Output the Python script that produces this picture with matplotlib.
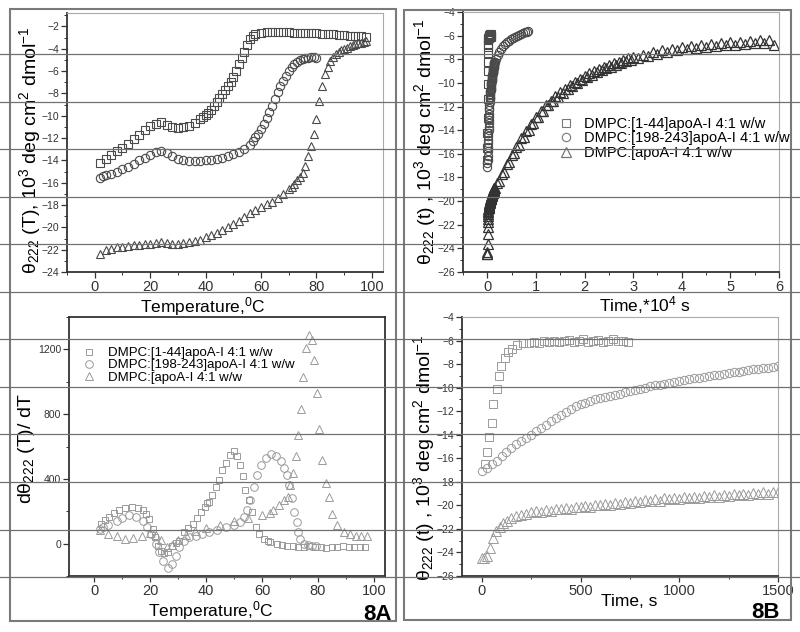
import numpy as np
import matplotlib
matplotlib.use("Agg")
import matplotlib.pyplot as plt
from matplotlib.lines import Line2D
from matplotlib.patches import Rectangle
from matplotlib.ticker import MultipleLocator

plt.rcParams['font.family'] = ['Liberation Sans', 'DejaVu Sans']
plt.rcParams['mathtext.fontset'] = 'custom'
plt.rcParams['mathtext.rm'] = 'Liberation Sans'
plt.rcParams['mathtext.it'] = 'Liberation Sans:italic'
plt.rcParams['mathtext.default'] = 'regular'

labels = ["DMPC:[1-44]apoA-I 4:1 w/w", "DMPC:[198-243]apoA-I 4:1 w/w", "DMPC:[apoA-I 4:1 w/w"]

# ---------------- Panel 8A top: theta vs temperature ----------------
a1_sq_T = [2, 4, 6, 8, 10, 12, 14, 16, 18, 20, 22, 24, 26, 28, 30, 32, 34, 36, 38, 39, 40, 41, 42, 43, 44,
           45, 46, 47, 48, 49, 50, 51, 52, 53, 54, 55, 56, 57, 58, 60, 62, 64, 66, 68, 70, 72, 74, 76, 78,
           80, 82, 84, 86, 88, 90, 92, 94, 96, 98]
a1_sq_v = [-14.2, -13.9, -13.55, -13.2, -12.85, -12.5, -12.1, -11.7, -11.3, -10.95, -10.7, -10.6, -10.8,
           -11.0, -11.1, -11.05, -10.9, -10.65, -10.3, -10.1, -9.95, -9.75, -9.5, -9.15, -8.8,
           -8.45, -8.1, -7.7, -7.35, -6.95, -6.5, -6.0, -5.4, -4.8, -4.25, -3.65, -3.1, -2.85, -2.65,
           -2.55, -2.5, -2.48, -2.5, -2.5, -2.52, -2.55, -2.55, -2.58, -2.6,
           -2.62, -2.65, -2.68, -2.7, -2.75, -2.8, -2.85, -2.88, -2.9, -2.95]

a1_ci_T = [2, 3, 4, 6, 8, 10, 12, 14, 16, 18, 20, 22, 24, 26, 28, 30, 32, 34, 36, 38, 40, 42, 44, 46, 48,
           50, 52, 54, 56, 57, 58, 59, 60, 61, 62, 63, 64, 65, 66, 67, 68, 69, 70, 71, 72, 73, 74, 75,
           76, 77, 78, 79, 80]
a1_ci_v = [-15.6, -15.4, -15.35, -15.2, -15.0, -14.8, -14.55, -14.3, -14.0, -13.75, -13.5, -13.25, -13.2,
           -13.35, -13.6, -13.85, -14.0, -14.05, -14.05, -14.05, -14.0, -13.95, -13.85, -13.75, -13.6,
           -13.45, -13.25, -13.0, -12.6, -12.3, -11.95, -11.6, -11.2, -10.75, -10.25, -9.7, -9.1, -8.5,
           -7.9, -7.35, -6.85, -6.4, -6.0, -5.65, -5.4, -5.2, -5.05, -4.95, -4.85, -4.8, -4.78, -4.78, -4.82]

a1_tr_T = [2, 4, 6, 8, 10, 12, 14, 16, 18, 20, 22, 24, 26, 28, 30, 32, 34, 36, 38, 40, 42, 44, 46, 48,
           50, 52, 54, 56, 58, 60, 62, 64, 66, 68, 70, 71, 72, 73, 74, 75, 76, 77, 78, 79, 80, 81, 82,
           83, 84, 85, 86, 87, 88, 89, 90, 91, 92, 93, 94, 95, 96, 97, 98]
a1_tr_v = [-22.35, -22.0, -21.9, -21.8, -21.75, -21.7, -21.6, -21.55, -21.5, -21.45, -21.4, -21.35, -21.4,
           -21.45, -21.45, -21.4, -21.35, -21.25, -21.1, -20.9, -20.7, -20.5, -20.25, -20.0,
           -19.7, -19.4, -19.05, -18.75, -18.45, -18.2, -17.95, -17.7, -17.35, -17.0, -16.6, -16.35,
           -16.1, -15.8, -15.5, -15.15, -14.5, -13.6, -12.7, -11.6, -10.3, -8.7, -7.3,
           -6.3, -5.6, -5.1, -4.75, -4.5, -4.3, -4.15, -4.0, -3.9, -3.8, -3.7, -3.6, -3.5, -3.45, -3.4, -3.35]

# ---------------- Panel 8A bottom: derivative ----------------
a2_sq_T = [2.4, 4, 5.4, 7, 9, 11, 13.7, 15.5, 17.3, 18.5, 19.7, 20.9, 21.9, 22.7, 23.9, 25, 26.5, 28,
           29.2, 30.5, 32.3, 33.7, 35.2, 36.7, 38.2, 39.5, 40.4, 41.2, 42.2, 43.4, 44.6, 45.8, 47, 48.7,
           49.9, 51.1, 52.1, 53.3, 54.1, 55.3, 56.5, 57.7, 58.9, 60.7, 62, 63, 65.4, 67, 69, 71, 73, 75,
           77, 79, 81, 83, 85, 87, 89, 91, 93, 95, 97]
a2_sq_v = [123, 145, 165, 188, 206, 218, 227, 220, 206, 180, 154, 92, 40, -12, -44, -55, -50, -12,
           5, 19, 71, 95, 123, 160, 196, 225, 248, 258, 300, 352, 394, 456, 498, 550,
           571, 540, 485, 415, 331, 269, 196, 102, 60, 29, 15, 8, -2, -8, -12, -15, -18, -20,
           -17, -22, -19, -24, -18, -21, -16, -23, -19, -20, -18]

a2_ci_T = [2, 3, 5, 8, 10, 12.5, 15, 17.3, 19, 20.3, 22.1, 23.3, 24.5, 26.3, 28, 29.3, 30.5, 32.3, 34,
           36.4, 38.5, 41.2, 44, 47.2, 50, 52, 53.5, 54.7, 55.9, 57.1, 58.3, 59.5, 61.3, 63.1, 64.9,
           66.7, 67.9, 68.8, 69.7, 70.9, 71.4, 72.4, 72.9, 73.6, 75.1, 76.5, 78, 79.5]
a2_ci_v = [92, 100, 115, 140, 158, 175, 165, 140, 100, 60, -2, -54, -106, -148, -127, -75, -23, 19, 38,
           50, 60, 71, 85, 100, 115, 135, 165, 206, 269, 352, 425, 487, 529, 556, 540,
           508, 466, 425, 362, 280, 196, 133, 71, 29, 0, -8, -12, -14]

a2_tr_T = [2, 5, 8, 11, 14, 17, 20, 22, 24, 26, 28, 30, 33, 36, 40, 45, 50, 55, 60, 63, 64, 66, 68,
           69.3, 70.2, 71.1, 72.0, 72.9, 73.8, 74.7, 75.6, 76.8, 77.8, 78.6, 79.6, 80.4, 81.6, 82.8,
           83.8, 85.2, 87, 89.4, 91.5, 93.5, 95.5, 97.5]
a2_tr_v = [85, 60, 45, 30, 35, 50, 65, 55, 20, -20, -10, 20, 55, 75, 95, 115, 140, 160, 175, 190, 205,
           240, 270, 290, 360, 435, 539, 669, 831, 1029, 1206, 1289, 1258, 1133, 929, 706, 519, 373,
           290, 186, 112, 71, 60, 50, 48, 45]

# ---------------- Panel 8B: kinetics (time in s) ----------------
b_sq_t = [15, 29, 39, 54, 59, 76, 88, 98, 118, 135, 152, 177, 211, 240, 265, 290, 315, 340, 365, 390,
          415, 440, 465, 490, 515, 540, 565, 590, 615, 640, 665, 690, 715, 740]
b_sq_v = [-16.5, -15.5, -14.2, -13.0, -11.4, -10.1, -9.0, -8.2, -7.5, -7.0, -6.7, -6.4, -6.25, -6.2,
          -6.15, -6.2, -6.05, -6.1, -6.0, -6.15, -6.0, -5.95, -6.1, -6.05, -5.9, -6.1, -6.0, -5.95,
          -6.15, -6.0, -5.9, -6.05, -6.0, -6.1]

b_ci_t = [0, 25, 50, 75, 100, 125, 150, 175, 200, 225, 250, 275, 300, 325, 350, 375, 400, 425, 450,
          475, 500, 525, 550, 575, 600, 625, 650, 675, 700, 725, 750, 775, 800, 825, 850, 875, 900,
          925, 950, 975, 1000, 1025, 1050, 1075, 1100, 1125, 1150, 1175, 1200, 1225, 1250, 1275,
          1300, 1325, 1350, 1375, 1400, 1425, 1450, 1475, 1500]
b_ci_v = [-17.1, -16.8, -16.5, -16.2, -15.8, -15.45, -15.1, -14.8, -14.5, -14.25, -14.0, -13.7, -13.4,
          -13.15, -12.85, -12.6, -12.3, -12.1, -11.85, -11.6, -11.4, -11.3, -11.15, -11.0, -10.9,
          -10.8, -10.7, -10.6, -10.5, -10.4, -10.3, -10.2, -10.1, -10.0, -9.9, -9.8, -9.75, -9.65,
          -9.6, -9.5, -9.45, -9.35, -9.3, -9.2, -9.15, -9.1, -9.0, -8.95, -8.9, -8.8, -8.75, -8.7,
          -8.65, -8.55, -8.5, -8.45, -8.4, -8.35, -8.3, -8.25, -8.2]

b_tr_t = [0, 12, 25, 40, 55, 70, 90, 110, 130, 150, 175, 200, 225, 250, 275, 300, 325, 350, 375, 400,
          425, 450, 475, 500, 525, 550, 575, 600, 625, 650, 675, 700, 725, 750, 775, 800, 825, 850,
          875, 900, 925, 950, 975, 1000, 1025, 1050, 1075, 1100, 1125, 1150, 1175, 1200, 1225, 1250,
          1275, 1300, 1325, 1350, 1375, 1400, 1425, 1450, 1475, 1500]
b_tr_v = [-24.5, -24.45, -24.3, -23.6, -22.8, -22.2, -21.8, -21.5, -21.3, -21.1, -20.9, -20.8, -20.7,
          -20.6, -20.5, -20.55, -20.4, -20.45, -20.3, -20.35, -20.2, -20.3, -20.1, -20.15, -20.05,
          -20.1, -19.95, -20.0, -19.85, -19.95, -19.8, -19.85, -19.7, -19.8, -19.65, -19.7, -19.55,
          -19.65, -19.45, -19.6, -19.4, -19.5, -19.35, -19.45, -19.3, -19.4, -19.25, -19.35, -19.2,
          -19.3, -19.15, -19.25, -19.1, -19.2, -19.05, -19.15, -19.0, -19.1, -18.95, -19.05, -18.9,
          -19.0, -18.85, -18.9]

# long-time continuation (time in 10^4 s)
b_ci_long_t = [0.17, 0.21, 0.25, 0.29, 0.33, 0.37, 0.41, 0.45, 0.49, 0.53, 0.57, 0.61, 0.65, 0.69,
               0.73, 0.77, 0.81, 0.84]
b_ci_long_v = [-7.95, -7.65, -7.35, -7.1, -6.9, -6.7, -6.55, -6.45, -6.3, -6.2, -6.1, -6.0, -5.92,
               -5.85, -5.78, -5.72, -5.66, -5.62]

b_tr_long_t = [0.20, 0.25, 0.30, 0.35, 0.40, 0.45, 0.50, 0.55, 0.60, 0.65, 0.70, 0.75, 0.80, 0.85,
               0.90, 0.95, 1.00, 1.05, 1.10, 1.15, 1.20, 1.25, 1.30, 1.35, 1.40, 1.45, 1.50, 1.55,
               1.60, 1.65, 1.70, 1.75, 1.80, 1.85, 1.90, 1.95, 2.00, 2.05, 2.10, 2.15, 2.20, 2.25,
               2.30, 2.35, 2.40, 2.45, 2.50, 2.55, 2.60, 2.65, 2.70, 2.75, 2.80, 2.85, 2.90, 2.95,
               3.00, 3.1, 3.2, 3.3, 3.4, 3.5, 3.6, 3.7, 3.8, 3.9, 4.0, 4.1, 4.2, 4.3, 4.4, 4.5, 4.6,
               4.7, 4.8, 4.9, 5.0, 5.1, 5.2, 5.3, 5.4, 5.5, 5.6, 5.7, 5.8, 5.9]
b_tr_long_v = [-18.5, -18.3, -17.7, -17.5, -16.9, -16.7, -16.1, -15.95, -15.4, -15.25, -14.7, -14.6,
               -14.1, -14.0, -13.5, -13.4, -12.9, -12.85, -12.4, -12.35, -11.9, -11.9, -11.5, -11.5,
               -11.1, -11.15, -10.8, -10.85, -10.5, -10.55, -10.2, -10.25, -9.9, -9.97, -9.65, -9.72,
               -9.4, -9.5, -9.2, -9.3, -9.0, -9.1, -8.8, -8.92, -8.65, -8.77, -8.5, -8.62, -8.35,
               -8.48, -8.2, -8.32, -8.05, -8.18, -7.9, -8.05, -7.8, -7.85, -7.6, -7.7, -7.4, -7.52,
               -7.25, -7.38, -7.1, -7.25, -7.0, -7.15, -6.9, -7.05, -6.8, -6.95, -6.7, -6.88, -6.65,
               -6.8, -6.55, -6.75, -6.5, -6.7, -6.45, -6.65, -6.4, -6.6, -6.4, -6.8]

# ---------------- figure ----------------
W, H = 800, 632
fig = plt.figure(figsize=(8, 6.32), dpi=100)


def px_axes(l, t, r, b):
    return fig.add_axes([l / W, 1 - b / H, (r - l) / W, (b - t) / H])


def style(ax, dark_frame, xsize=10.5, ysize=7.5):
    for s in ['left', 'bottom']:
        ax.spines[s].set_color('#333333')
        ax.spines[s].set_linewidth(1.3)
    for s in ['top', 'right']:
        ax.spines[s].set_color('#333333' if dark_frame else '#aaaaaa')
        ax.spines[s].set_linewidth(1.3 if dark_frame else 0.8)
    ax.tick_params(which='both', direction='out', top=False, right=False, colors='#333333')
    ax.tick_params(which='major', length=4, width=0.9)
    ax.tick_params(which='minor', length=2, width=0.7)
    ax.tick_params(axis='x', labelsize=xsize, pad=1.5)
    ax.tick_params(axis='y', labelsize=ysize, pad=1.5)


dark = dict(linestyle='none', mfc='none', mec='#4a4a4a', mew=0.8)
light = dict(linestyle='none', mfc='none', mec='#9a9a9a', mew=0.7)

ylab_theta_T = r"$\theta_{222}$ (T), 10$^3$ deg cm$^2$ dmol$^{-1}$"
ylab_theta_t = r"$\theta_{222}$ (t) , 10$^3$ deg cm$^2$ dmol$^{-1}$"
xlab_temp = r"Temperature,$^0$C"

# A1
ax1 = px_axes(67, 13, 383, 272)
ax1.plot(a1_sq_T, a1_sq_v, marker='s', ms=5.5, **dark)
ax1.plot(a1_ci_T, a1_ci_v, marker='o', ms=6, **dark)
ax1.plot(a1_tr_T, a1_tr_v, marker='^', ms=6, **dark)
ax1.set_xlim(-10, 104)
ax1.set_ylim(-24, -0.8)
ax1.xaxis.set_major_locator(MultipleLocator(20))
ax1.xaxis.set_minor_locator(MultipleLocator(10))
ax1.yaxis.set_major_locator(MultipleLocator(2))
ax1.yaxis.set_minor_locator(MultipleLocator(1))
style(ax1, False)
ax1.set_ylabel(ylab_theta_T, fontsize=14)
ax1.yaxis.set_label_coords(-0.076, 0.47)
ax1.set_xlabel(xlab_temp, fontsize=12.5)
ax1.xaxis.set_label_coords(0.43, -0.09)

# B1
ax2 = px_axes(463, 12, 779, 272)
ax2.plot(np.array(b_sq_t) / 1e4, b_sq_v, marker='s', ms=5.5, label=labels[0], **dark)
ax2.plot(np.concatenate([np.array(b_ci_t) / 1e4, b_ci_long_t]),
         np.concatenate([b_ci_v, b_ci_long_v]), marker='o', ms=6, label=labels[1], **dark)
ax2.plot(np.concatenate([np.array(b_tr_t) / 1e4, b_tr_long_t]),
         np.concatenate([b_tr_v, b_tr_long_v]), marker='^', ms=6.5,
         label=labels[2], linestyle='none', mfc='none', mec='#333333', mew=0.9)
ax2.set_xlim(-0.5, 6)
ax2.set_ylim(-26, -4)
ax2.xaxis.set_major_locator(MultipleLocator(1))
ax2.xaxis.set_minor_locator(MultipleLocator(0.5))
ax2.yaxis.set_major_locator(MultipleLocator(2))
ax2.yaxis.set_minor_locator(MultipleLocator(1))
style(ax2, False)
ax2.set_ylabel(ylab_theta_t, fontsize=14)
ax2.yaxis.set_label_coords(-0.079, 0.50)
ax2.set_xlabel(r"Time,*10$^4$ s", fontsize=12.5)
ax2.xaxis.set_label_coords(0.576, -0.085)
leg = ax2.legend(loc='upper left', bbox_to_anchor=(0.28, 0.62), frameon=False, fontsize=10.5,
                 handletextpad=0.6, labelspacing=0.05, handlelength=1.2, borderaxespad=0)
for h in leg.legend_handles:
    h.set_markeredgecolor('#777777')

# A2
ax3 = px_axes(69, 317, 385, 576)
ax3.plot(a2_sq_T, a2_sq_v, marker='s', ms=5, label=labels[0], **light)
ax3.plot(a2_ci_T, a2_ci_v, marker='o', ms=5.5, label=labels[1], **light)
ax3.plot(a2_tr_T, a2_tr_v, marker='^', ms=6, label=labels[2], **light)
ax3.set_xlim(-9, 104)
ax3.set_ylim(-200, 1400)
ax3.xaxis.set_major_locator(MultipleLocator(20))
ax3.xaxis.set_minor_locator(MultipleLocator(10))
ax3.yaxis.set_major_locator(MultipleLocator(400))
ax3.yaxis.set_minor_locator(MultipleLocator(200))
style(ax3, True)
ax3.set_ylabel(r"d$\theta_{222}$ (T)/ dT", fontsize=14)
ax3.yaxis.set_label_coords(-0.10, 0.49)
ax3.set_xlabel(xlab_temp, fontsize=12.5)
ax3.xaxis.set_label_coords(0.45, -0.088)
ax3.legend(loc='upper left', bbox_to_anchor=(0.02, 0.905), frameon=False, fontsize=9.5,
           handletextpad=0.9, labelspacing=0.0, handlelength=1.2, borderaxespad=0)

# B2
ax4 = px_axes(462, 317, 778, 576)
ax4.plot(b_sq_t, b_sq_v, marker='s', ms=5.5, **light)
ax4.plot(b_ci_t, b_ci_v, marker='o', ms=6, **light)
ax4.plot(b_tr_t, b_tr_v, marker='^', ms=6.5, **light)
ax4.set_xlim(-100, 1500)
ax4.set_ylim(-26, -4)
ax4.xaxis.set_major_locator(MultipleLocator(500))
ax4.xaxis.set_minor_locator(MultipleLocator(250))
ax4.yaxis.set_major_locator(MultipleLocator(2))
ax4.yaxis.set_minor_locator(MultipleLocator(1))
style(ax4, False)
ax4.set_ylabel(ylab_theta_t, fontsize=14)
ax4.yaxis.set_label_coords(-0.079, 0.455)
ax4.set_xlabel("Time, s", fontsize=12.5)
ax4.xaxis.set_label_coords(0.53, -0.068)

# panel letters
fig.text(377 / W, 1 - 614 / H, "8A", fontsize=16, fontweight='bold', ha='center', va='center')
fig.text(765 / W, 1 - 612 / H, "8B", fontsize=16, fontweight='bold', ha='center', va='center')

# outer frames
fig.add_artist(Rectangle((10 / W, 1 - 621 / H), 386 / W, 612 / H, transform=fig.transFigure,
                         fill=False, ec='#7a7a7a', lw=1.5, zorder=9))
fig.add_artist(Rectangle((404 / W, 1 - 620 / H), 387 / W, 610 / H, transform=fig.transFigure,
                         fill=False, ec='#7a7a7a', lw=1.5, zorder=9))

# scan ruling lines across the page
for k in range(12):
    yy = 1 - (54 + 47.55 * k) / H
    fig.add_artist(Line2D([0, 1], [yy, yy], transform=fig.transFigure, color='#707070',
                          lw=0.9, zorder=10))

fig.savefig("out.png", dpi=100, facecolor='white')
